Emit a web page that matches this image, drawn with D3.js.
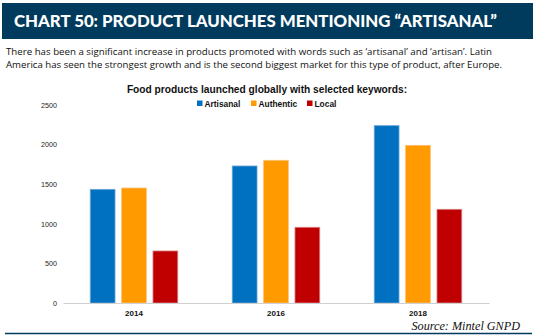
<!DOCTYPE html>
<html>
<head>
<meta charset="utf-8">
<script src="https://cdn.jsdelivr.net/npm/d3@7"></script>
<style>
  html, body { margin: 0; padding: 0; background: #fff; }
  svg { display: block; }
</style>
</head>
<body>
<svg id="chart" width="542" height="335"></svg>
<script>
// Product launches per year, by keyword
const years = ["2014", "2016", "2018"];
const seriesNames = ["Artisanal", "Authentic", "Local"];
const artisanal = [1435, 1730, 2239];
const authentic = [1452, 1802, 1991];
const local = [657, 956, 1183];
const yTicks = [0, 500, 1000, 1500, 2000, 2500];
const colors = ["#0070c0", "#ff9a00", "#c00000"];
const edgeColors = ["#6aa6d8", "#ffc27a", "#d98080"];

const title = "CHART 50: PRODUCT LAUNCHES MENTIONING \u201CARTISANAL\u201D";
const introLines = [
  "There has been a significant increase in products promoted with words such as \u2018artisanal\u2019 and \u2018artisan\u2019. Latin",
  "America has seen the strongest growth and is the second biggest market for this type of product, after Europe."
];
const chartTitle = "Food products launched globally with selected keywords:";
const source = "Source: Mintel GNPD";

const values = [artisanal, authentic, local];
const rows = years.map((yr, i) => ({
  year: yr,
  vals: seriesNames.map((s, j) => ({ name: s, idx: j, value: values[j][i] }))
}));

const svg = d3.select("#chart");
const navy = "#003a5c";

// Header band
svg.append("rect").attr("x", 2).attr("y", 3).attr("width", 531).attr("height", 36).attr("fill", navy);
svg.append("text").attr("x", 14).attr("y", 27)
  .attr("fill", "#fff")
  .attr("font-family", "Lato, 'Open Sans', sans-serif")
  .attr("font-weight", 900)
  .attr("font-size", 16.5)
  .attr("textLength", 483)
  .attr("lengthAdjust", "spacingAndGlyphs")
  .text(title);

// Intro text
svg.selectAll("text.intro").data(introLines).join("text")
  .attr("class", "intro")
  .attr("x", 6).attr("y", (d, i) => 55 + i * 13)
  .attr("fill", "#111")
  .attr("font-family", "'Open Sans', sans-serif")
  .attr("font-size", 9.6)
  .attr("textLength", (d, i) => i === 0 ? 486 : 496)
  .attr("lengthAdjust", "spacingAndGlyphs")
  .text(d => d);

// Plot scales
const x0 = d3.scaleBand().domain(years).range([63, 489]).paddingInner(0).paddingOuter(0);
const x1 = d3.scaleBand().domain(seriesNames).range([0, 87.5]).paddingInner(0.21);
const y = d3.scaleLinear().domain([0, 2500]).range([303, 105]);

// Y axis labels
const yAxis = d3.axisLeft(y).tickValues(yTicks).tickFormat(d3.format("d")).tickSize(0).tickPadding(0);
const yg = svg.append("g").attr("transform", "translate(57,0)").call(yAxis);
yg.select(".domain").remove();
yg.selectAll("text")
  .attr("font-family", "'Liberation Sans', Arial, sans-serif")
  .attr("font-size", 7.2)
  .attr("fill", "#222")
  .attr("dy", "0.32em");

// Bars
const groups = svg.selectAll("g.grp").data(rows).join("g")
  .attr("class", "grp")
  .attr("transform", d => `translate(${x0(d.year) + (x0.bandwidth() - 87.5) / 2},0)`);
groups.selectAll("rect").data(d => d.vals).join("rect")
  .attr("x", d => x1(d.name))
  .attr("y", d => y(d.value))
  .attr("width", x1.bandwidth())
  .attr("height", d => y(0) - y(d.value))
  .attr("fill", d => colors[d.idx])
  .attr("stroke", d => edgeColors[d.idx])
  .attr("stroke-width", 0.8);

// X axis
const xAxis = d3.axisBottom(x0).tickSize(0).tickPadding(7);
const xg = svg.append("g").attr("transform", "translate(0,303)").call(xAxis);
xg.select(".domain").attr("stroke", "#d0d0d0").attr("stroke-width", 1.2);
xg.selectAll("text")
  .attr("font-family", "'Liberation Sans', Arial, sans-serif")
  .attr("font-weight", "bold")
  .attr("font-size", 8)
  .attr("fill", "#111");

// Chart title
svg.append("text").attr("x", 267).attr("y", 93)
  .attr("text-anchor", "middle")
  .attr("font-family", "'Liberation Sans', Arial, sans-serif")
  .attr("font-weight", "bold")
  .attr("font-size", 10.2)
  .attr("fill", "#111")
  .text(chartTitle);

// Legend
const legendX = [197, 251, 307];
const lg = svg.selectAll("g.leg").data(seriesNames).join("g")
  .attr("class", "leg")
  .attr("transform", (d, i) => `translate(${legendX[i]},104)`);
lg.append("rect").attr("x", 0).attr("y", -3.5).attr("width", 5.5).attr("height", 5.5)
  .attr("fill", (d, i) => colors[i]);
lg.append("text").attr("x", 7.5).attr("y", 2.8)
  .attr("font-family", "'Liberation Sans', Arial, sans-serif")
  .attr("font-weight", "bold")
  .attr("font-size", 8.4)
  .attr("fill", "#111")
  .text(d => d);

// Source
svg.append("text").attr("x", 520).attr("y", 330)
  .attr("text-anchor", "end")
  .attr("font-family", "'Liberation Serif', 'Times New Roman', serif")
  .attr("font-style", "italic")
  .attr("font-size", 12.2)
  .attr("fill", "#111")
  .text(source);

// Bottom rule
svg.append("line").attr("x1", 5).attr("x2", 532).attr("y1", 333.5).attr("y2", 333.5)
  .attr("stroke", navy).attr("stroke-width", 1.4);
</script>
</body>
</html>
